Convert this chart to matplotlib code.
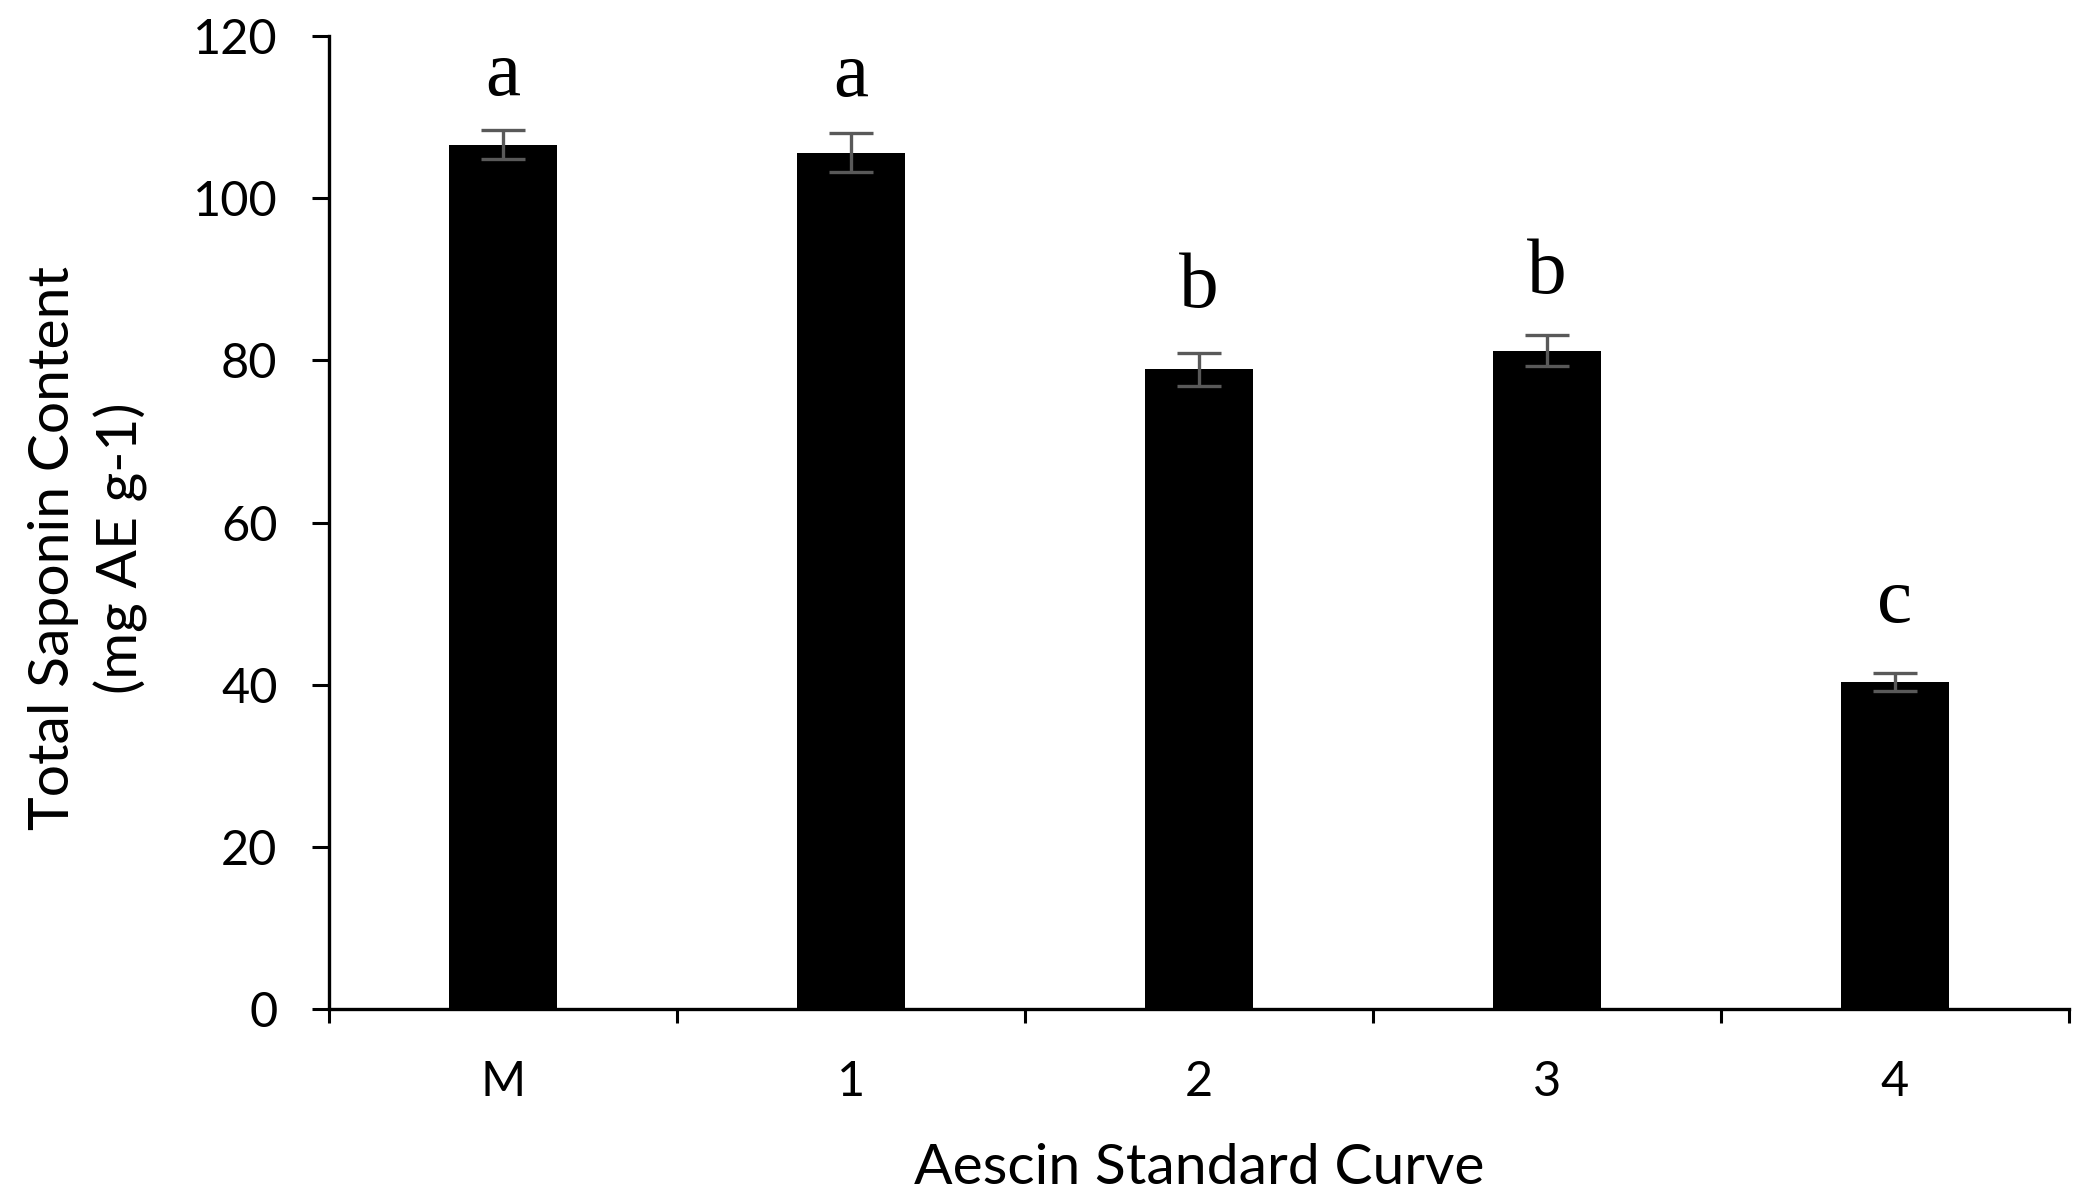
import numpy as np
import matplotlib
matplotlib.use("Agg")
import matplotlib.pyplot as plt

# values
categories = ["M", "1", "2", "3", "4"]
saponin = [106.6, 105.6, 78.9, 81.2, 40.3]
saponin_err = [1.8, 2.4, 2.05, 1.95, 1.1]
letters = ["a", "a", "b", "b", "c"]
letter_y = [115.0, 114.9, 88.9, 90.6, 50.0]
yticks = [0, 20, 40, 60, 80, 100, 120]

plt.rcParams['font.family'] = ['Lato', 'DejaVu Sans']

fig = plt.figure(figsize=(20.82, 12.04), dpi=100)
ax = fig.add_axes([0.158, 0.162, 0.8357, 0.808])

x = np.arange(len(categories))
ax.bar(x, saponin, width=0.31, color="black", zorder=2)
ax.errorbar(x, saponin, yerr=saponin_err, fmt="none", ecolor="#595959",
            elinewidth=2.4, capsize=16, capthick=2.4, zorder=3)

for xi, lab, ly in zip(x, letters, letter_y):
    ax.text(xi, ly, lab, ha="center", va="center", fontsize=57,
            family=["Liberation Serif", "DejaVu Serif"])

ax.set_xlim(-0.5, len(categories) - 0.5)
ax.set_ylim(0, 120)
ax.set_yticks(yticks)
ax.set_yticklabels([str(v) for v in yticks])

# boundary ticks as major, labels on minor ticks at the bar centres
ax.set_xticks(np.arange(-0.5, len(categories), 1.0))
ax.set_xticklabels([])
ax.set_xticks(x, minor=True)
ax.set_xticklabels(categories, minor=True)

ax.tick_params(axis="y", which="major", direction="out", length=12, width=2.2,
               labelsize=35, pad=25)
ax.tick_params(axis="x", which="major", direction="out", length=10, width=2.2)
ax.tick_params(axis="x", which="minor", length=0, labelsize=35, pad=37)

for side in ["top", "right"]:
    ax.spines[side].set_visible(False)
for side in ["left", "bottom"]:
    ax.spines[side].set_linewidth(2.4)

ax.set_ylabel("Total Saponin Content\n(mg AE g-1)", fontsize=41, linespacing=1.33)
ax.yaxis.label.set_va("center")
ax.yaxis.set_label_coords(-0.1385, 0.474)
ax.set_xlabel("Aescin Standard Curve", fontsize=41)
ax.xaxis.label.set_va("center")
ax.xaxis.set_label_coords(0.5, -0.1645)

fig.savefig("out.png", dpi=100)
